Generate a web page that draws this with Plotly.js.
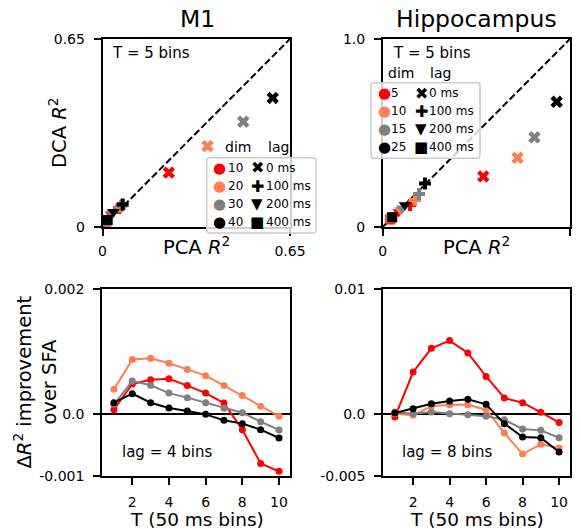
<!DOCTYPE html>
<html><head><meta charset="utf-8">
<script src="https://cdn.plot.ly/plotly-3.0.1.min.js"></script>
<style>html,body{margin:0;padding:0;background:#fff}#chart{width:581px;height:529px}</style>
</head><body><div id="chart"></div>
<script>
// ---------- data ----------
const lagNames = ["0 ms", "100 ms", "200 ms", "400 ms"];
const lagSymbols = ["x", "cross", "triangle-down", "square"];
const lagGlyphs = ["\u2716", "\u271A", "\u25BC", "\u25A0"];
const dimColors = ["#ff0000", "#ff7f50", "#808080", "#000000"];

// M1 (T = 5 bins): PCA R^2 (x) vs DCA R^2 (y), per dim, across lags
const m1Dims = ["10", "20", "30", "40"];
const m1PcaD10 = [0.230, 0.058, 0.030, 0.012];
const m1DcaD10 = [0.188, 0.066, 0.044, 0.018];
const m1PcaD20 = [0.364, 0.062, 0.033, 0.014];
const m1DcaD20 = [0.280, 0.070, 0.048, 0.020];
const m1PcaD30 = [0.488, 0.066, 0.036, 0.016];
const m1DcaD30 = [0.364, 0.074, 0.050, 0.022];
const m1PcaD40 = [0.590, 0.070, 0.038, 0.018];
const m1DcaD40 = [0.446, 0.078, 0.053, 0.024];

// Hippocampus (T = 5 bins)
const hcDims = ["5", "10", "15", "25"];
const hcPcaD5  = [0.537, 0.146, 0.085, 0.040];
const hcDcaD5  = [0.269, 0.117, 0.080, 0.040];
const hcPcaD10 = [0.720, 0.172, 0.095, 0.045];
const hcDcaD10 = [0.368, 0.144, 0.090, 0.046];
const hcPcaD15 = [0.810, 0.194, 0.105, 0.048];
const hcDcaD15 = [0.477, 0.175, 0.100, 0.050];
const hcPcaD25 = [0.929, 0.226, 0.119, 0.051];
const hcDcaD25 = [0.666, 0.231, 0.117, 0.052];

// Delta R^2 improvement over SFA vs T
const T = [1, 2, 3, 4, 5, 6, 7, 8, 9, 10];
const m1ImpD10 = [0.000064, 0.000476, 0.000545, 0.00056, 0.00045, 0.00033, 0.00017, -0.000257, -0.0008, -0.000925];
const m1ImpD20 = [0.00039, 0.00087, 0.00089, 0.00081, 0.00071, 0.00061, 0.00045, 0.00029, 0.00012, -0.00004];
const m1ImpD30 = [0.00015, 0.000524, 0.000455, 0.00033, 0.000257, 0.000176, 0.000086, 0.000016, -0.000128, -0.000262];
const m1ImpD40 = [0.000176, 0.00032, 0.000176, 0.00009, 0.000043, -0.000011, -0.000107, -0.00016, -0.000257, -0.00039];
const hcImpD5  = [-0.00027, 0.00334, 0.00524, 0.00586, 0.00487, 0.00299, 0.00126, 0.00088, 0.00011, -0.0007];
const hcImpD10 = [0, -0.00013, 0.00059, 0.00072, 0.00072, 0.00032, -0.00155, -0.00324, -0.00246, -0.00275];
const hcImpD15 = [0.00013, 0, 0.00013, 0, -0.00008, -0.00021, -0.00048, -0.00123, -0.00134, -0.00193];
const hcImpD25 = [0.00005, 0.0004, 0.0008, 0.00102, 0.00115, 0.00075, -0.0008, -0.00187, -0.00193, -0.00307];

const m1Range = [0, 0.65];
const hcRange = [0, 1.0];
const m1YTicks = [-0.001, 0, 0.002];
const m1YTickText = ["-0.001", "0.0", "0.002"];
const hcYTicks = [-0.005, 0, 0.01];
const hcYTickText = ["-0.005", "0.0", "0.01"];
const tTicks = [2, 4, 6, 8, 10];

// ---------- layout helpers ----------
const W = 581, H = 529;
const FONT = "DejaVu Sans, Verdana, sans-serif";
const px = v => v / W;
const py = v => 1 - v / H;
const xd = (a, b) => [a / W, b / W];
const yd = (top, bot) => [1 - bot / H, 1 - top / H];

const traces = [];
// diagonal reference lines (y = x across the axis range)
traces.push({x: m1Range, y: m1Range, xaxis: "x", yaxis: "y", mode: "lines", showlegend: false,
  line: {color: "black", width: 2, dash: "7px,3px"}, hoverinfo: "skip"});
traces.push({x: hcRange, y: hcRange, xaxis: "x2", yaxis: "y2", mode: "lines", showlegend: false,
  line: {color: "black", width: 2, dash: "7px,3px"}, hoverinfo: "skip"});

function scatterSet(xs, ys, dims, ax, ay) {
  xs.forEach((x, i) => {
    traces.push({x: x, y: ys[i], xaxis: ax, yaxis: ay, mode: "markers", showlegend: false,
      name: "dim " + dims[i], text: lagNames, hovertemplate: "%{text}<extra></extra>",
      marker: {color: dimColors[i], symbol: lagSymbols, size: [11, 10, 11, 10], opacity: 1, line: {width: 0}}});
  });
}
scatterSet([m1PcaD10, m1PcaD20, m1PcaD30, m1PcaD40], [m1DcaD10, m1DcaD20, m1DcaD30, m1DcaD40], m1Dims, "x", "y");
scatterSet([hcPcaD5, hcPcaD10, hcPcaD15, hcPcaD25], [hcDcaD5, hcDcaD10, hcDcaD15, hcDcaD25], hcDims, "x2", "y2");

function lineSet(ys, dims, ax, ay) {
  ys.forEach((y, i) => {
    traces.push({x: T, y: y, xaxis: ax, yaxis: ay, mode: "lines+markers", showlegend: false,
      name: "dim " + dims[i], line: {color: dimColors[i], width: 2}, marker: {color: dimColors[i], size: 7, opacity: 1}});
  });
}
lineSet([m1ImpD10, m1ImpD20, m1ImpD30, m1ImpD40], m1Dims, "x3", "y3");
lineSet([hcImpD5, hcImpD10, hcImpD15, hcImpD25], hcDims, "x4", "y4");

const axBase = {showgrid: false, zeroline: false, showline: true, mirror: true, linecolor: "black",
  linewidth: 1.5, ticks: "outside", ticklen: 7, tickwidth: 1.5, tickcolor: "black",
  tickfont: {family: FONT, size: 14, color: "black"}, ticklabelstandoff: 6, fixedrange: true};

function roundRect(x0, y0, x1, y1, r) {
  const rx = r / W, ry = r / H;
  const X0 = px(x0), X1 = px(x1), Y0 = py(y0), Y1 = py(y1);
  return `M${X0 + rx},${Y0} L${X1 - rx},${Y0} Q${X1},${Y0} ${X1},${Y0 - ry} L${X1},${Y1 + ry} Q${X1},${Y1} ${X1 - rx},${Y1} L${X0 + rx},${Y1} Q${X0},${Y1} ${X0},${Y1 + ry} L${X0},${Y0 - ry} Q${X0},${Y0} ${X0 + rx},${Y0} Z`;
}
function ann(text, x, y, size, opts, color) {
  return Object.assign({text: text, x: px(x), y: py(y), xref: "paper", yref: "paper", showarrow: false,
    font: {family: FONT, size: size, color: color || "black"}, xanchor: "center", yanchor: "middle"}, opts || {});
}
// legend (two columns: dim colours, lag symbols)
const glyphSizes = [16, 16, 15, 15];
function legendAnns(dims, c1, t1, c2, t2, rows) {
  const out = [];
  dims.forEach((d, i) => {
    out.push(ann("\u25CF", c1, rows[i], 15, {}, dimColors[i]));
    out.push(ann(d, t1, rows[i], 12, {xanchor: "left"}));
    out.push(ann(lagGlyphs[i], c2, rows[i], glyphSizes[i], {}));
    out.push(ann(lagNames[i], t2, rows[i], 12, {xanchor: "left"}));
  });
  return out;
}

const layout = {
  width: W, height: H, margin: {l: 0, r: 0, t: 0, b: 0},
  paper_bgcolor: "white", plot_bgcolor: "white", showlegend: false,
  xaxis: Object.assign({}, axBase, {domain: xd(102.5, 290), range: m1Range, tickvals: m1Range, ticktext: ["0", "0.65"], anchor: "y", ticklabelstandoff: 3}),
  yaxis: Object.assign({}, axBase, {domain: yd(39, 227), range: m1Range, tickvals: m1Range, ticktext: ["0", "0.65"], anchor: "x"}),
  xaxis2: Object.assign({}, axBase, {domain: xd(382.7, 570), range: hcRange, tickvals: hcRange, ticktext: ["0", "1.0"], anchor: "y2", ticklabelstandoff: 3}),
  yaxis2: Object.assign({}, axBase, {domain: yd(39, 227), range: hcRange, tickvals: hcRange, ticktext: ["0", "1.0"], anchor: "x2"}),
  xaxis3: Object.assign({}, axBase, {domain: xd(102, 290), range: [0.35, 10.6], tickvals: tTicks, anchor: "y3", ticklabelstandoff: 5}),
  yaxis3: Object.assign({}, axBase, {domain: yd(289, 476), range: [-0.001, 0.002], tickvals: m1YTicks, ticktext: m1YTickText, anchor: "x3",
    zeroline: true, zerolinecolor: "black", zerolinewidth: 1.5}),
  xaxis4: Object.assign({}, axBase, {domain: xd(383, 570), range: [0.35, 10.6], tickvals: tTicks, anchor: "y4", ticklabelstandoff: 5}),
  yaxis4: Object.assign({}, axBase, {domain: yd(289, 476), range: [-0.005, 0.01], tickvals: hcYTicks, ticktext: hcYTickText, anchor: "x4",
    zeroline: true, zerolinecolor: "black", zerolinewidth: 1.5}),
  shapes: [
    {type: "path", xref: "paper", yref: "paper", path: roundRect(206.7, 157.7, 316, 233, 3), layer: "above",
      line: {color: "#cccccc", width: 1.5}, fillcolor: "rgba(255,255,255,0.8)"},
    {type: "path", xref: "paper", yref: "paper", path: roundRect(371, 82.7, 480, 158.3, 3), layer: "above",
      line: {color: "#cccccc", width: 1.5}, fillcolor: "rgba(255,255,255,0.8)"}
  ],
  annotations: [
    ann("M1", 197, 18.5, 23.5),
    ann("Hippocampus", 476.5, 18.5, 23.5),
    ann("T = 5 bins", 110, 53, 15, {xanchor: "left"}),
    ann("T = 5 bins", 391, 53, 15, {xanchor: "left"}),
    ann("dim", 223, 147.3, 14, {xanchor: "left"}),
    ann("lag", 266, 147.3, 14, {xanchor: "left"}),
    ann("dim", 386, 73.3, 14, {xanchor: "left"}),
    ann("lag", 428, 73.3, 14, {xanchor: "left"}),
    ann("PCA <i>R</i><sup>2</sup>", 196, 246, 19.5),
    ann("PCA <i>R</i><sup>2</sup>", 476.5, 246, 19.5),
    ann("DCA <i>R</i><sup>2</sup>", 58, 133, 19.5, {textangle: -90}),
    ann("lag = 4 bins", 120, 452.3, 15, {xanchor: "left"}),
    ann("lag = 8 bins", 400, 452.3, 15, {xanchor: "left"}),
    ann("T (50 ms bins)", 197, 519.5, 18.5),
    ann("T (50 ms bins)", 477, 519.5, 18.5),
    ann("Δ<i>R</i><sup>2</sup> improvement<br>over SFA", 35, 382.5, 19.5, {textangle: -90})
  ].concat(
    legendAnns(m1Dims, 219.3, 226, 257.3, 263.5, [167.7, 186, 204.2, 222.3]),
    legendAnns(hcDims, 384.3, 388.5, 421, 427, [93.3, 111.3, 129.3, 147.3])
  )
};

Plotly.newPlot("chart", traces, layout, {displayModeBar: false});
</script>
</body></html>
